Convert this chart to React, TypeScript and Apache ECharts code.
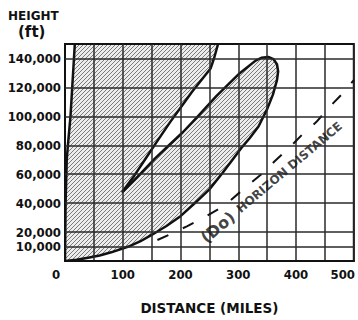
import React, { useEffect, useRef } from 'react';
import * as echarts from 'echarts';

// ---- data (miles, feet) ----
const xTickValues = [0, 100, 200, 300, 400, 500];
const yTickValues = [10000, 20000, 40000, 60000, 80000, 100000, 120000, 140000];
const yTickLabels = ['10,000', '20,000', '40,000', '60,000', '80,000', '100,000', '120,000', '140,000'];

// steep boundary rising from the origin (left edge of hatched zone)
const leftEdge: number[][] = [
  [0, 0], [1, 40000], [3, 70000], [5, 80000], [9.5, 100000], [12.5, 120000], [15.5, 140000], [17, 150000],
];

// lower curve from origin, round the lobe top, back down to the tip
const outerCurve: number[][] = [
  [0, 0], [20, 800], [40, 2200], [60, 3800], [80, 6000], [110, 10000], [130, 13500], [150, 18000],
  [175, 24000], [200, 31000], [225, 40000], [250, 49500], [273, 61000], [290, 70000], [305, 78000],
  [320, 85000], [335, 93000], [350, 105000], [360, 115000], [367, 125000], [369, 131000], [367, 136000],
  [361, 139500], [352, 141000], [340, 140500], [330, 138500], [303, 130000], [280, 121000], [262, 114000],
  [230, 100000], [204, 89000], [180, 80000], [156, 71000], [130, 60000], [110, 52000], [100, 48000],
];

// line from the tip up to the top of the chart
const innerLine: number[][] = [
  [100, 48000], [108, 52500], [120, 59000], [140, 71000], [160, 83000], [182, 96000], [200, 106000],
  [220, 117000], [240, 127000], [252, 133000], [258, 140000], [265, 150000],
];

// horizon distance (dashed)
const horizonLine: number[][] = [
  [160, 14500], [185, 19000], [211, 24000], [240, 30000], [275, 38000], [310, 50000], [340, 60000],
  [363, 69000], [390, 79000], [411, 87500], [435, 96000], [458, 106500], [480, 115500], [500, 125000],
];

const labelAnchor: number[][] = [[358, 54500]];

const FONT = 'DejaVu Sans Condensed, DejaVu Sans, sans-serif';
const FONT2 = 'DejaVu Sans, sans-serif';

function makeHatch() {
  const c = document.createElement('canvas');
  c.width = 4;
  c.height = 4;
  const ctx = c.getContext('2d')!;
  ctx.fillStyle = '#ececec';
  ctx.fillRect(0, 0, 4, 4);
  ctx.strokeStyle = '#7a7a7a';
  ctx.lineWidth = 1;
  for (const k of [-4, 0, 4]) {
    ctx.beginPath();
    ctx.moveTo(-1 + k, 5);
    ctx.lineTo(5 + k, -1);
    ctx.stroke();
  }
  return c;
}

export default function App() {
  const ref = useRef<HTMLDivElement>(null);
  useEffect(() => {
    document.body.style.margin = '0';
    const chart = echarts.init(ref.current!, null, { renderer: 'svg' });
    const hatch = { image: makeHatch(), repeat: 'repeat' };
    const labelStyle = { color: '#111', fontFamily: FONT, fontSize: 13, fontWeight: 'bold' as const };
    const option: any = {
      animation: false,
      backgroundColor: '#fff',
      grid: { left: 65, right: 3, top: 44, bottom: 55, show: true, borderColor: '#111', borderWidth: 2 },
      xAxis: {
        type: 'value', min: 0, max: 500, interval: 50,
        axisLine: { show: true, lineStyle: { color: '#111', width: 2 } },
        axisTick: { show: false },
        splitLine: { show: true, lineStyle: { color: '#2a2a2a', width: 1.5 } },
        axisLabel: {
          ...labelStyle, margin: 7,
          formatter: (v: number) => {
            if (!xTickValues.includes(v)) return '';
            if (v === 0) return '{z|0}';
            if (v === 500) return '{e|500}';
            return String(v);
          },
          rich: {
            z: { ...labelStyle, padding: [0, 18, 0, 0] },
            e: { ...labelStyle, padding: [0, 22, 0, 0] },
          },
        },
        name: 'DISTANCE (MILES)', nameLocation: 'middle', nameGap: 40,
        nameTextStyle: { color: '#111', fontFamily: FONT2, fontSize: 13.5, fontWeight: 'bold' },
      },
      yAxis: {
        type: 'value', min: 0, max: 150000, interval: 10000,
        axisLine: { show: true, lineStyle: { color: '#111', width: 2 } },
        axisTick: { show: false },
        splitLine: { show: false },
        axisLabel: {
          ...labelStyle, margin: 4,
          formatter: (v: number) => {
            const i = yTickValues.indexOf(v);
            return i >= 0 ? yTickLabels[i] : '';
          },
        },
      },
      graphic: [
        { type: 'text', left: 8, top: 10, style: { text: 'HEIGHT', fill: '#111', font: `bold 12px ${FONT2}` } },
        { type: 'text', left: 18, top: 24, style: { text: '(ft)', fill: '#111', font: `bold 15px ${FONT2}` } },
      ],
      series: [
        {
          type: 'custom', z: -1, clip: true, silent: true,
          data: [[0, 0]],
          renderItem: (_p: any, api: any) => {
            const px = (pts: number[][]) => pts.map((p) => api.coord(p));
            const poly = [...leftEdge, ...innerLine.slice().reverse(), ...outerCurve.slice().reverse()];
            const lineStyle = { stroke: '#111', lineWidth: 2.5, fill: null, lineJoin: 'round', lineCap: 'round' };
            return {
              type: 'group',
              children: [
                { type: 'polygon', shape: { points: px(poly) }, style: { fill: hatch, stroke: null } },
                { type: 'polyline', shape: { points: px(leftEdge) }, style: lineStyle },
                { type: 'polyline', shape: { points: px(innerLine) }, style: lineStyle },
                { type: 'polyline', shape: { points: px(outerCurve) }, style: lineStyle },
              ],
            };
          },
        },
        {
          type: 'line', z: 3, data: horizonLine, showSymbol: false, symbol: 'none', silent: true,
          lineStyle: { color: '#111', width: 2, type: [12, 16] },
          markLine: {
            silent: true, symbol: ['none', 'none'], label: { show: false },
            lineStyle: { color: '#2a2a2a', width: 1.5, type: 'solid' },
            data: yTickValues.map((v) => ({ yAxis: v })),
          },
        },
        {
          type: 'scatter', z: 4, data: labelAnchor, symbolSize: 0, silent: true,
          label: {
            show: true, position: 'inside', rotate: 40, align: 'center', verticalAlign: 'middle',
            formatter: '{a|(Do)}{s| }{b|HORIZON DISTANCE}',
            rich: {
              a: { fontFamily: FONT2, fontSize: 16, color: '#111', fontWeight: 'bold' },
              s: { fontFamily: FONT2, fontSize: 12.5, width: 7 },
              b: { fontFamily: FONT2, fontSize: 12, fontWeight: 'bold', color: '#111' },
            },
          },
        },
      ],
    };
    chart.setOption(option);
    return () => chart.dispose();
  }, []);
  return <div ref={ref} style={{ position: 'fixed', left: 0, top: 0, width: 358, height: 320 }} />;
}
